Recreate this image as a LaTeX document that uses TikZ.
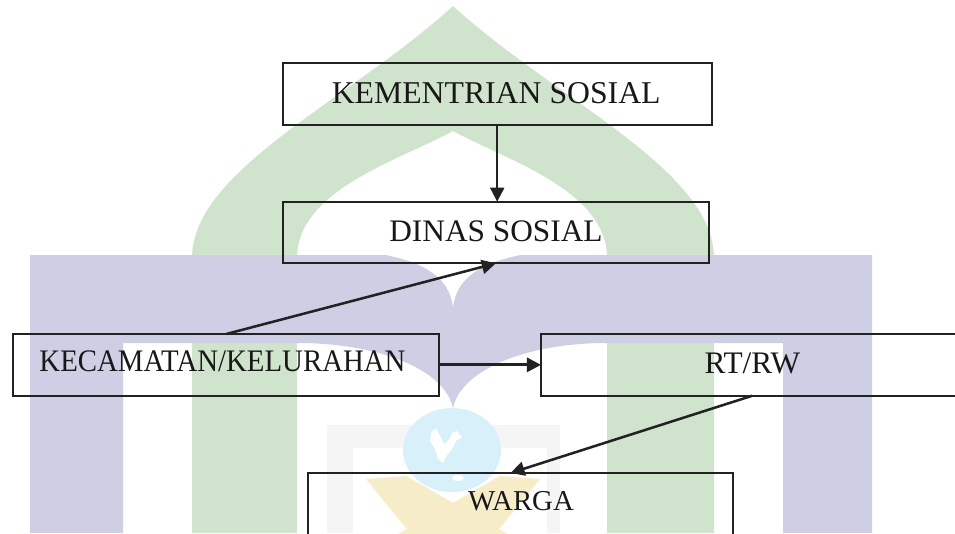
\documentclass[tikz,border=0pt]{standalone}
\usepackage{fontspec}
\setmainfont{Liberation Serif}
\usetikzlibrary{arrows.meta,calc}

% watermark tints
\definecolor{wmgreen}{RGB}{208,228,205}
\definecolor{wmblue}{RGB}{206,207,228}
\definecolor{wmyellow}{RGB}{246,236,200}
\definecolor{wmcyan}{RGB}{215,240,250}
\definecolor{wmgray}{RGB}{245,245,245}
% chart ink
\definecolor{inkline}{RGB}{34,34,34}
\definecolor{inktext}{RGB}{24,24,24}

\begin{document}
\begin{tikzpicture}[x=0.75pt,y=-0.75pt,
  orgbox/.style={draw=inkline, line width=1.5pt, rectangle, inner sep=0pt, outer sep=0pt},
  boxlabel/.style={anchor=base, inner sep=0pt, outer sep=0pt, text=inktext,
    font=\fontsize{23.5pt}{28pt}\selectfont},
  flow/.style={draw=inkline, -{Triangle[length=10.5pt,width=10.5pt]}},
]
\useasboundingbox (0,0) rectangle (955,533);
\begin{scope}
\clip (0,0) rectangle (955,533);

% ---- background emblem ----
% green dome with its two legs
\fill[wmgreen] (192,533) -- (192,258)
  .. controls (192,170) and (350,100) .. (453,6)
  .. controls (556,100) and (714,170) .. (714,258)
  -- (714,533) -- (607,533) -- (607,258)
  .. controls (607,190) and (506,160) .. (453,131)
  .. controls (400,160) and (297,190) .. (297,258)
  -- (297,533) -- cycle;
% blue gate with the hanging point
\fill[wmblue] (30,533) -- (30,255) -- (872,255) -- (872,533) -- (783,533)
  -- (783,343) -- (607,343)
  .. controls (526,343) and (461,370) .. (453,408)
  .. controls (445,370) and (380,343) .. (297,343)
  -- (123,343) -- (123,533) -- cycle;
% white cusp under the dome
\fill[white] (380,254) .. controls (428,262) and (450,280) .. (453,307)
  .. controls (456,280) and (478,262) .. (526,254) -- cycle;
% faint frame behind the globe
\fill[wmgray] (327,425) rectangle (560,533);
\fill[white] (353,448) rectangle (547,533);
% globe
\fill[wmcyan] (452,450) ellipse [x radius=49, y radius=42];
\fill[white] (431,432) -- (436,428) -- (440,436) -- (444,444) -- (449,440)
  -- (452,433) -- (457,431) -- (462,437) -- (456,441) -- (452,449)
  -- (447,455) -- (443,463) -- (438,459) -- (435,449) -- (430,441) -- cycle;
\fill[white] (458,478) ellipse [x radius=6, y radius=3];
% crossed ribbons
\fill[wmyellow] (366,479) -- (406,476) -- (518,540) -- (416,540) -- cycle;
\fill[wmyellow] (540,479) -- (500,476) -- (388,540) -- (490,540) -- cycle;

% ---- organisation chart ----
\node[orgbox, minimum width=321.75pt, minimum height=46.5pt] (kem) at (497.2,94) {};
\node[orgbox, minimum width=319.7pt, minimum height=46.2pt] (din) at (495.85,232.5) {};
\node[orgbox, minimum width=319.5pt, minimum height=46.3pt] (kec) at (226.3,364.85) {};
\node[orgbox, minimum width=317pt, minimum height=46.3pt] (rtrw) at (752.3,364.85) {};
\node[orgbox, minimum width=319.2pt, minimum height=48pt] (warga) at (520.5,505) {};

\node[boxlabel, font=\fontsize{23.8pt}{28pt}\selectfont] (kem-t) at (496.2,103.3) {KEMENTRIAN SOSIAL};
\node[boxlabel] (din-t) at (496,241.7) {DINAS SOSIAL};
\node[boxlabel] (kec-t) at (222.5,371.7) {\scalebox{0.92}[1]{KECAMATAN/KELURAHAN}};
\node[boxlabel] (rtrw-t) at (752.3,373.3) {RT/RW};
\node[boxlabel, font=\fontsize{21.6pt}{26pt}\selectfont] (warga-t) at (521,510) {WARGA};

\draw[flow, line width=1.5pt] (kem.south) -- (kem.south |- din.north);
\draw[flow, line width=1.9pt] (kec.north) -- (din.south);
\draw[flow, line width=2.2pt] (kec.east) -- (rtrw.west);
\draw[flow, line width=1.9pt] (rtrw.south) -- ($(warga.north)+(-10,0)$);
\end{scope}
\end{tikzpicture}
\end{document}
